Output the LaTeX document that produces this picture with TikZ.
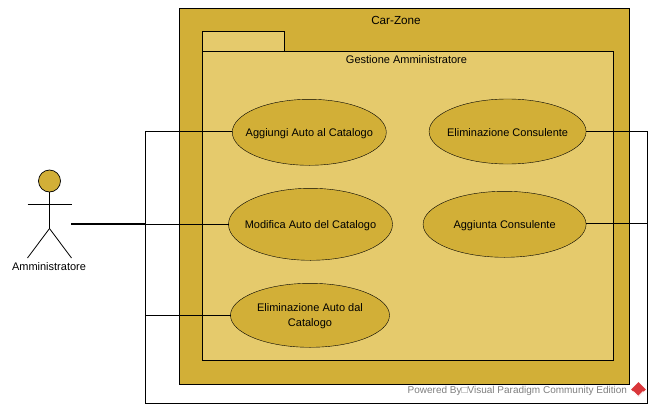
\documentclass[tikz,border=0pt]{standalone}
\usepackage{fontspec}
\setmainfont{Liberation Sans}
\usetikzlibrary{shapes.geometric}
\usetikzlibrary{positioning}
\definecolor{outerfill}{HTML}{D2AF37}
\definecolor{innerfill}{HTML}{E5CA6C}
\definecolor{markgray}{HTML}{808080}
\definecolor{logored}{HTML}{D9363A}
\newcommand*{\CaseStrut}{\rule{0pt}{10.6pt}}
\tikzset{
    usecase/.style={
        ellipse,draw=black,fill=outerfill,text=black,
        align=center,inner xsep=-30pt,inner ysep=0pt,outer sep=0pt,
        font=\fontsize{11}{15}\selectfont,
        },
    plainnode/.style={
        rectangle,outer sep=0pt,inner sep=0pt,text=black,
        font=\fontsize{11}{13}\selectfont,
        },
    wire/.style={draw=black,line width=.9pt},
    stickman/.style={draw=black,line width=.8pt},
    }

\begin{document}
\begin{tikzpicture}[x=1pt,y=-1pt]
    \useasboundingbox (0,0) rectangle (651,407);
    % frames
    \draw[black,line width=.9pt,fill=outerfill] (179.5,8.5) rectangle (629.5,384.5);
    \draw[black,line width=.9pt,fill=innerfill] (202.5,31.5) rectangle (284.5,51.5);
    \draw[black,line width=.9pt,fill=innerfill] (202.5,51.5) rectangle (613.5,360.5);
    \node[plainnode,font=\fontsize{11.7}{13}\selectfont] (car) at (396,20) {Car-Zone};
    \node[plainnode] (gest) at (406.5,59.5) {Gestione Amministratore};
    % actor
    \node[circle,draw=black,fill=outerfill,minimum size=22pt,inner sep=0pt,outer sep=0pt,line width=.7pt] (head) at (49.5,181) {};
    \coordinate (hip) at (49.5,228.5);
    \coordinate (armL) at (27.5,204.5);
    \coordinate (armR) at (71.5,204.5);
    \coordinate (footL) at (27.5,258);
    \coordinate (footR) at (71.5,258);
    \draw[stickman] (head) -- (hip) -- (footL);
    \draw[stickman] (hip) -- (footR);
    \draw[stickman] (armL) -- (armR);
    \node[plainnode] (admin) at (49,266.5) {Amministratore};
    % use cases
    \node[usecase,minimum width=164pt,minimum height=72pt] (modifica) at (310.5,224.3) {\CaseStrut Modifica Auto del Catalogo};
    \node[usecase,minimum width=154pt,minimum height=66pt] (aggiungi) [above=23pt of modifica,xshift=-1.2pt] {\CaseStrut Aggiungi Auto al Catalogo};
    \node[usecase,minimum width=159pt,minimum height=64pt] (elimauto) [below=23pt of modifica,xshift=-.5pt] {\CaseStrut Eliminazione Auto dal\\Catalogo};
    \node[usecase,minimum width=163pt,minimum height=66pt] (aggcons) [right=30.6pt of modifica] {\CaseStrut Aggiunta Consulente};
    \node[usecase,minimum width=157pt,minimum height=65pt] (elimcons) [above=27.3pt of aggcons,xshift=3pt] {\CaseStrut Eliminazione Consulente};
    % connectors
    \coordinate (start) at (71,224);
    \coordinate (busL) at (145.5,224);
    \coordinate (busLmid) at (145.5,224.5);
    \coordinate (busLtop) at (145.5,131.5);
    \coordinate (busLjoin) at (145.5,315.5);
    \coordinate (busLbot) at (145.5,403.5);
    \coordinate (busRbot) at (647.5,403.5);
    \coordinate (busRmid) at (647.5,223.5);
    \coordinate (busRtop) at (647.5,131.5);
    \draw[wire,line width=1.8pt] (start) -- (busL);
    \draw[wire] (busLmid) -- (modifica.west |- busLmid);
    \draw[wire] (busL) -- (busLtop) -- (aggiungi.west |- busLtop);
    \draw[wire] (busL) -- (busLjoin) -- (elimauto.west |- busLjoin);
    \draw[wire] (busLjoin) -- (busLbot) -- (busRbot) -- (busRmid) -- (aggcons.east |- busRmid);
    \draw[wire] (busRmid) -- (busRtop) -- (elimcons.east |- busRtop);
    % watermark
    \node[plainnode,text=markgray,fill=white,inner ysep=1pt,font=\fontsize{10}{12}\selectfont,anchor=east] (mark) at (627,390.5) {Powered By□Visual Paradigm Community Edition};
    \node[diamond,fill=logored,minimum size=15pt,inner sep=0pt] (logo) at (638.5,389.5) {};
    \draw[white,line width=.8pt] (logo.west) ++(2.5,2) -- ++(5,5) -- ++(5,-5);
\end{tikzpicture}
\end{document}
